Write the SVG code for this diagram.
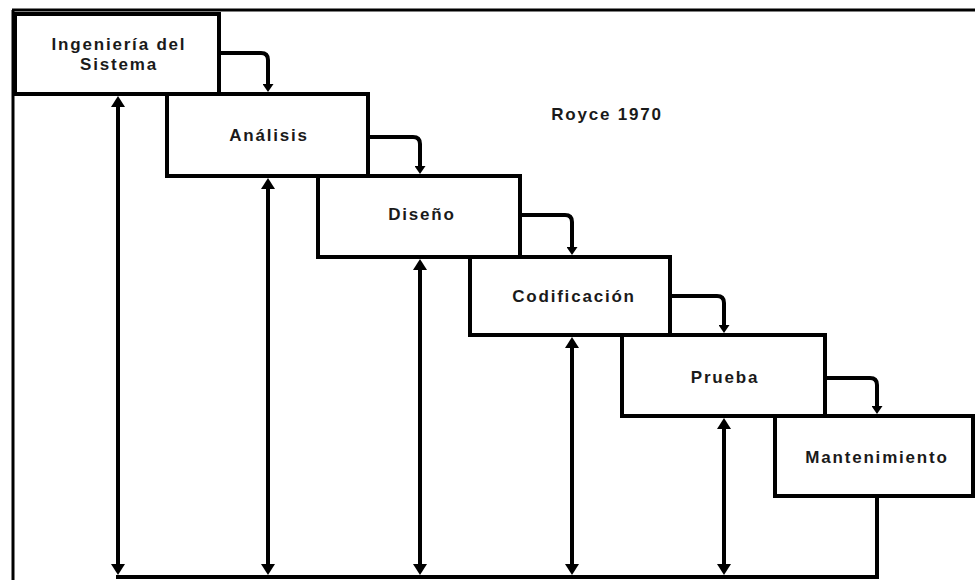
<svg xmlns="http://www.w3.org/2000/svg" width="975" height="580" viewBox="0 0 975 580">
<style>
.box{fill:#fff;stroke:#000;stroke-width:4}
.ln{fill:none;stroke:#000;stroke-width:4}
.fr{fill:none;stroke:#000;stroke-width:3}
.t{font-family:"Liberation Sans",Arial,sans-serif;font-size:17px;font-weight:bold;letter-spacing:1.8px;fill:#1a1a1a;text-anchor:middle}
</style>
<defs>
<marker id="big" markerUnits="userSpaceOnUse" viewBox="0 0 11 14" markerWidth="11" markerHeight="14" refX="6" refY="7" orient="auto-start-reverse">
<path d="M0,0 L11,7 L0,14 z" fill="#000"/>
</marker>
<marker id="sm" markerUnits="userSpaceOnUse" viewBox="0 0 8 11" markerWidth="8" markerHeight="11" refX="4" refY="5.5" orient="auto">
<path d="M0,0 L8,5.5 L0,11 z" fill="#000"/>
</marker>
</defs>
<rect width="975" height="580" fill="#fff"/>
<g id="frame">
<line class="fr" x1="12" y1="10" x2="975" y2="10"/>
<line class="fr" x1="13" y1="10" x2="13" y2="580"/>
</g>
<g id="n1"><rect class="box" x="15" y="14" width="204" height="80"/><text class="t" x="119" y="50">Ingeniería del</text><text class="t" x="119" y="70">Sistema</text></g>
<g id="n2"><rect class="box" x="167" y="94" width="201" height="82"/><text class="t" x="269" y="141">Análisis</text></g>
<g id="n3"><rect class="box" x="318" y="176" width="202" height="81"/><text class="t" x="422" y="220">Diseño</text></g>
<g id="n4"><rect class="box" x="470" y="257" width="200" height="78"/><text class="t" x="574" y="302">Codificación</text></g>
<g id="n5"><rect class="box" x="622" y="335" width="203" height="81"/><text class="t" x="725" y="383">Prueba</text></g>
<g id="n6"><rect class="box" x="775" y="416" width="198" height="80"/><text class="t" x="877" y="463">Mantenimiento</text></g>
<g id="label"><text class="t" x="607" y="120">Royce 1970</text></g>
<g id="connectors">
<path class="ln" d="M219,53 H261 Q268,53 268,60 V88" marker-end="url(#sm)"/>
<path class="ln" d="M368,137 H413 Q420,137 420,144 V170" marker-end="url(#sm)"/>
<path class="ln" d="M520,215 H565 Q572,215 572,222 V251" marker-end="url(#sm)"/>
<path class="ln" d="M670,296 H717 Q724,296 724,303 V329" marker-end="url(#sm)"/>
<path class="ln" d="M825,378 H870 Q877,378 877,385 V410" marker-end="url(#sm)"/>
<line class="ln" x1="118" y1="101" x2="118" y2="570" marker-start="url(#big)" marker-end="url(#big)"/>
<line class="ln" x1="268" y1="183" x2="268" y2="570" marker-start="url(#big)" marker-end="url(#big)"/>
<line class="ln" x1="420" y1="264" x2="420" y2="570" marker-start="url(#big)" marker-end="url(#big)"/>
<line class="ln" x1="572" y1="342" x2="572" y2="570" marker-start="url(#big)" marker-end="url(#big)"/>
<line class="ln" x1="724" y1="423" x2="724" y2="570" marker-start="url(#big)" marker-end="url(#big)"/>
<path class="ln" d="M116,577 H877 V496"/>
</g>
</svg>
